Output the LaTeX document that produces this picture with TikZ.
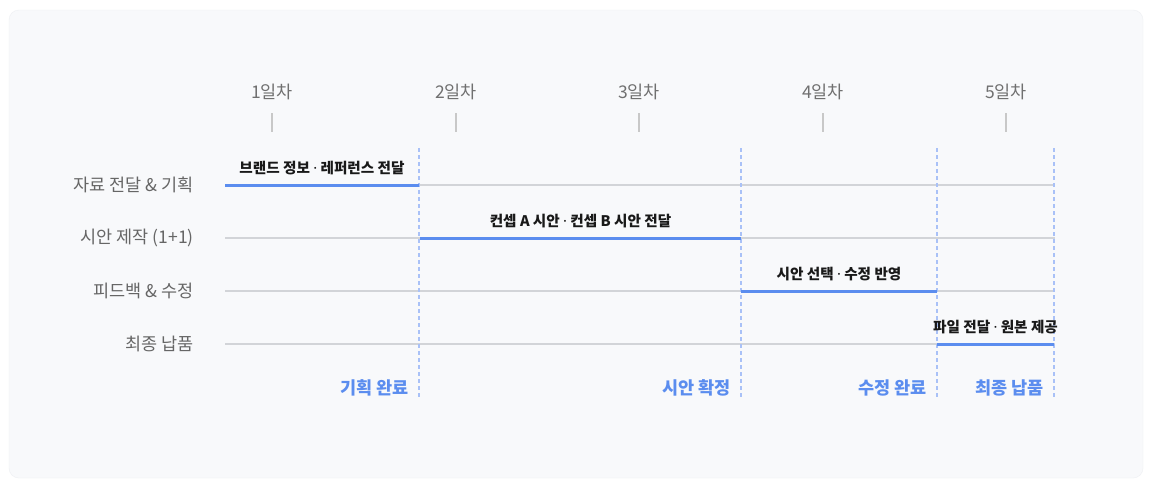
\documentclass[tikz,border=0pt]{standalone}
\usepackage{fontspec}
\usetikzlibrary{calc}
\setmainfont{Noto Sans CJK KR}
\newfontfamily\latinfont{Noto Sans}
\newcommand{\mdot}{{\latinfont\bfseries ·}}
\definecolor{panel}{HTML}{F8F9FB}
\definecolor{edge}{HTML}{EEF0F3}
\definecolor{daygray}{HTML}{707070}
\definecolor{rowgray}{HTML}{666666}
\definecolor{gridgray}{HTML}{D2D4D8}
\definecolor{tickgray}{HTML}{C8C8C8}
\definecolor{barblue}{HTML}{5B8DEF}
\definecolor{dashblue}{HTML}{A9C1F7}

\tikzset{
  daylbl/.style={font=\fontsize{17.5}{20}\selectfont, text=daygray, inner sep=0pt},
  rowlbl/.style={font=\fontsize{17.5}{20}\selectfont, text=rowgray, inner sep=0pt, anchor=east},
  barlbl/.style={font=\fontsize{14.6}{17}\selectfont\bfseries, text=black!90, inner sep=0pt},
  milelbl/.style={font=\fontsize{17.5}{20}\selectfont\bfseries, text=barblue, inner sep=0pt, anchor=east},
  tickline/.style={draw=tickgray, line width=1.2pt},
  gridline/.style={draw=gridgray, line width=1.2pt},
  barline/.style={draw=barblue, line width=3pt},
  mileline/.style={draw=dashblue, line width=1.3pt, dash pattern=on 4pt off 3pt}
}

\begin{document}
\begin{tikzpicture}[x=1pt,y=-1pt]
  \useasboundingbox (0,0) rectangle (1152,490);
  \fill[white] (0,0) rectangle (1152,490);
  \draw[draw=edge, fill=panel, rounded corners=10pt] (9,10) rectangle (1143,478);

  % day header
  \foreach \d/\x in {1/272,2/456,3/639,4/823,5/1006} {
    \node[daylbl] (day\d) at (\x,92) {{\d}일차};
    \draw[tickline] (\x,113) -- (\x,132);
  }

  % rows
  \foreach \i/\y/\t in {1/185/자료 전달 \& 기획, 2/238/시안 제작 (1+1), 3/291/피드백 \& 수정, 4/344/최종 납품} {
    \node[rowlbl] (row\i) at (194,\y) {\t};
    \draw[gridline] (225,\y) -- (1055,\y);
  }

  % milestones
  \foreach \m/\x/\t in {a/419/기획 완료, b/741/시안 확정, c/937/수정 완료, d/1054/최종 납품} {
    \coordinate (top\m) at (\x,148);
    \coordinate (bot\m) at (\x,398);
    \draw[mileline] (top\m) -- (bot\m);
    \node[milelbl] (mile\m) at (\x-10,388) {\t};
  }

  % bars
  \coordinate (s1) at (225,185); \coordinate (e1) at (419,185);
  \coordinate (s2) at (420,238); \coordinate (e2) at (741,238);
  \coordinate (s3) at (741,291); \coordinate (e3) at (937,291);
  \coordinate (s4) at (937,344); \coordinate (e4) at (1054,344);
  \foreach \i/\t in {1/브랜드 정보 \mdot{} 레퍼런스 전달, 2/컨셉 A 시안 \mdot{} 컨셉 B 시안 전달, 3/시안 선택 \mdot{} 수정 반영, 4/파일 전달 \mdot{} 원본 제공} {
    \draw[barline] (s\i) -- (e\i);
    \node[barlbl, anchor=base] (bar\i) at ($(s\i)!0.5!(e\i)+(0,-11.5)$) {\t};
  }
\end{tikzpicture}
\end{document}
